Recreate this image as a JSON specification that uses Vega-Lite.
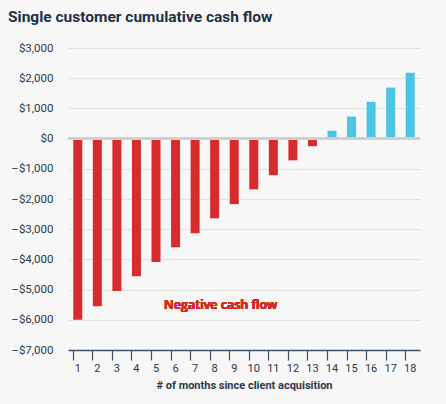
{
  "$schema": "https://vega.github.io/schema/vega-lite/v6.json",
  "autosize": "none",
  "width": 352,
  "height": 302,
  "padding": {"left": 68, "top": 48, "right": 26, "bottom": 54},
  "background": "#f7f7f7",
  "title": {
    "text": "Single customer cumulative cash flow",
    "anchor": "start",
    "frame": "group",
    "dx": -60,
    "offset": 17,
    "font": "Roboto",
    "fontSize": 15.5,
    "fontWeight": "bold",
    "color": "#1d3249"
  },
  "config": {
    "view": {"stroke": null},
    "axis": {
      "labelFont": "Roboto",
      "titleFont": "Roboto",
      "labelColor": "#2b3a4a",
      "titleColor": "#2b3a4a"
    },
    "axisY": {
      "values": [-7000, -6000, -5000, -4000, -3000, -2000, -1000, 0, 1000, 2000, 3000],
      "labelExpr": "datum.value < 0 ? '–$' + format(-datum.value, ',.0f') : '$' + format(datum.value, ',.0f')",
      "labelOverlap": false,
      "labelFontSize": 11.5,
      "labelPadding": 15,
      "ticks": false,
      "domain": false,
      "gridColor": "#e2e2e2",
      "gridWidth": 1,
      "title": null
    }
  },
  "data": {
    "values": [
      {"month": "1", "cash": -6000},
      {"month": "2", "cash": -5550},
      {"month": "3", "cash": -5050},
      {"month": "4", "cash": -4560},
      {"month": "5", "cash": -4090},
      {"month": "6", "cash": -3600},
      {"month": "7", "cash": -3130},
      {"month": "8", "cash": -2640},
      {"month": "9", "cash": -2170},
      {"month": "10", "cash": -1680},
      {"month": "11", "cash": -1210},
      {"month": "12", "cash": -720},
      {"month": "13", "cash": -250},
      {"month": "14", "cash": 260},
      {"month": "15", "cash": 730},
      {"month": "16", "cash": 1220},
      {"month": "17", "cash": 1690},
      {"month": "18", "cash": 2180}
    ]
  },
  "layer": [
    {
      "mark": {"type": "bar", "width": 9},
      "encoding": {
        "x": {
          "field": "month",
          "type": "ordinal",
          "sort": null,
          "scale": {"paddingInner": 0.54, "paddingOuter": 0.27},
          "title": "# of months since client acquisition",
          "axis": {
            "labelAngle": 0,
            "labelFontSize": 11,
            "labelPadding": 12,
            "ticks": false,
            "domain": false,
            "titleFontSize": 11,
            "titleFontWeight": "bold",
            "titlePadding": 6
          }
        },
        "y": {
          "field": "cash",
          "type": "quantitative",
          "scale": {"domain": [-7000, 3000], "nice": false},
          "title": null
        },
        "color": {
          "condition": {"test": "datum.cash < 0", "value": "#d92b2b"},
          "value": "#4bc5e1"
        }
      }
    },
    {
      "mark": {"type": "rule", "color": "#cfcfcf", "strokeWidth": 2.5},
      "encoding": {"y": {"datum": 0, "type": "quantitative", "title": null}}
    },
    {
      "mark": {
        "type": "text",
        "text": "Negative cash flow",
        "color": "#d92b2b",
        "font": "Open Sans",
        "fontSize": 12.5,
        "fontWeight": 600,
        "dx": 6
      },
      "encoding": {
        "x": {"datum": "8", "type": "ordinal", "axis": null},
        "y": {"datum": -5500, "type": "quantitative", "title": null}
      }
    },
    {
      "mark": {"type": "tick", "opacity": 0},
      "encoding": {
        "x": {
          "field": "month",
          "type": "ordinal",
          "sort": null,
          "axis": {
            "orient": "bottom",
            "bandPosition": 0,
            "labels": false,
            "title": null,
            "domainColor": "#3d4f63",
            "domainWidth": 1.5,
            "tickColor": "#3d4f63",
            "tickSize": 10,
            "tickWidth": 1.2,
            "grid": false
          }
        }
      }
    }
  ],
  "resolve": {"axis": {"x": "independent"}}
}
